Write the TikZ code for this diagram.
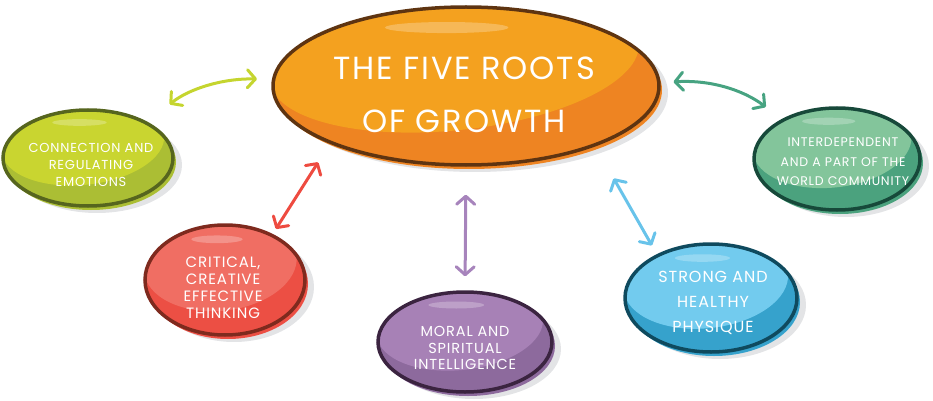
\documentclass[tikz,border=0pt]{standalone}
\usepackage{fontspec}
\setmainfont{Poppins}[LetterSpace=6]
\usetikzlibrary{shapes.geometric, arrows.meta, shadows, calc}
\definecolor{shadowgrey}{HTML}{E3E4E6}
\definecolor{orbase}{HTML}{EE8422}
\definecolor{orlight}{HTML}{F4A11F}
\definecolor{orline}{HTML}{5E3411}
\definecolor{grbase}{HTML}{ABBE34}
\definecolor{grlight}{HTML}{C9D530}
\definecolor{grline}{HTML}{56651E}
\definecolor{rdbase}{HTML}{EC4F44}
\definecolor{rdlight}{HTML}{F06E63}
\definecolor{rdline}{HTML}{7E2A1E}
\definecolor{pubase}{HTML}{8D6A9D}
\definecolor{pulight}{HTML}{A781B6}
\definecolor{puline}{HTML}{3B2440}
\definecolor{blbase}{HTML}{36A2CC}
\definecolor{bllight}{HTML}{72CBEE}
\definecolor{blline}{HTML}{0F4A5E}
\definecolor{tlbase}{HTML}{4BA27E}
\definecolor{tllight}{HTML}{83C59B}
\definecolor{tlline}{HTML}{17493A}
\definecolor{grarrow}{HTML}{C5D52F}
\definecolor{rdarrow}{HTML}{EE4B40}
\definecolor{puarrow}{HTML}{A784BC}
\definecolor{blarrow}{HTML}{68C3EA}
\definecolor{tlarrow}{HTML}{47A381}
\tikzset{
    bubble/.style n args={3}{ellipse, draw=#3, line width=3.5pt, fill=#1, inner sep=0pt,
        general shadow={fill=shadowgrey, shadow xshift=9pt, shadow yshift=-7pt},
        general shadow={fill=#1, shadow xshift=3pt, shadow yshift=-4pt},
        path picture={
            \fill[#2] let \p1=(path picture bounding box.south west), \p2=(path picture bounding box.north east) in
                ($(\p1)!0.5!(\p2)+({-0.03*(\x2-\x1)},{0.15*(\y2-\y1)})$)
                ellipse [x radius={0.48*(\x2-\x1)}, y radius={0.43*(\y2-\y1)}, rotate=6];
            \fill[white, opacity=.25] let \p1=(path picture bounding box.south west), \p2=(path picture bounding box.north east) in
                ($(\p1)!0.5!(\p2)+({-0.05*(\x2-\x1)},{0.37*(\y2-\y1)})$) ellipse ({0.16*(\x2-\x1)} and {0.035*(\y2-\y1)});
        }},
    txt/.style={text=white, align=center, inner sep=0pt, font=\fontsize{13}{17}\selectfont},
    headtxt/.style={txt, font=\fontsize{32}{53}\selectfont},
    link/.style={line width=3pt, line cap=round,
        {Straight Barb[length=8pt,width=18pt,round]}-{Straight Barb[length=8pt,width=18pt,round]}},
}
\begin{document}
\begin{tikzpicture}[x=1pt, y=-1pt]
\useasboundingbox (0,0) rectangle (933,401);

% the five roots
\node[bubble={orbase}{orlight}{orline}, minimum width=386pt, minimum height=158pt] (roots) at (466,86) {};
\node[headtxt] (rootstxt) at (464,95) {THE FIVE ROOTS\\OF GROWTH};

\node[bubble={grbase}{grlight}{grline}, minimum width=170pt, minimum height=96pt] (connect) at (88,158) {};
\node[txt] (connecttxt) at (91,165) {CONNECTION AND\\REGULATING\\EMOTIONS};

\node[bubble={rdbase}{rdlight}{rdline}, minimum width=160pt, minimum height=110pt] (thinking) at (225,280) {};
\node[txt, font=\fontsize{15}{17}\selectfont] (thinkingtxt) at (223,288) {CRITICAL,\\CREATIVE\\EFFECTIVE\\THINKING};

\node[bubble={pubase}{pulight}{puline}, minimum width=174pt, minimum height=100pt] (moral) at (465,342) {};
\node[txt, font=\fontsize{14.5}{16.5}\selectfont] (moraltxt) at (465,348) {MORAL AND\\SPIRITUAL\\INTELLIGENCE};

\node[bubble={blbase}{bllight}{blline}, minimum width=172pt, minimum height=108pt] (physique) at (711,298) {};
\node[txt, font=\fontsize{16}{25}\selectfont] (physiquetxt) at (713,303) {STRONG AND\\HEALTHY\\PHYSIQUE};

\node[bubble={tlbase}{tllight}{tlline}, minimum width=166pt, minimum height=102pt] (world) at (837,159) {};
\node[txt, font=\fontsize{12.5}{19.5}\selectfont] (worldtxt) at (843,162) {INTERDEPENDENT\\AND A PART OF THE\\WORLD COMMUNITY};

% arrows
\draw[link, grarrow, shorten <=28pt, shorten >=15pt] (connect.31) to[bend left=20] (roots.178);
\draw[link, tlarrow, shorten <=13pt, shorten >=20pt] (roots.1) to[bend left=20] (world.144);
\draw[link, rdarrow, shorten <=6pt, shorten >=22pt] (thinking.44) -- (roots.203);
\draw[link, puarrow, shorten <=14pt, shorten >=28pt] (moral.north) -- (roots.south);
\draw[link, blarrow, shorten <=10pt, shorten >=37pt] (physique.141) -- (roots.335);

\end{tikzpicture}
\end{document}
